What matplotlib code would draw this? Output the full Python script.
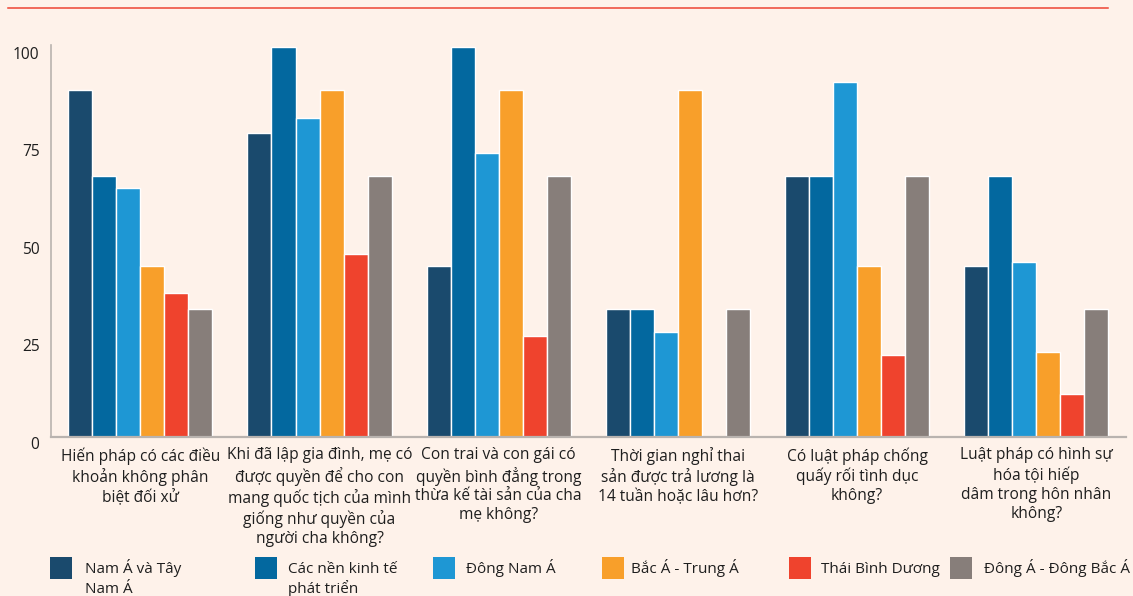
import matplotlib
matplotlib.use("Agg")
import matplotlib.pyplot as plt
import matplotlib.transforms as mtransforms
from matplotlib.patches import Rectangle
from matplotlib.lines import Line2D
import numpy as np

plt.rcParams['font.family'] = ['Open Sans', 'DejaVu Sans']

# Question categories (x axis)
categories = [
    "Hiến pháp có các điều\nkhoản không phân\nbiệt đối xử",
    "Khi đã lập gia đình, mẹ có\nđược quyền để cho con\nmang quốc tịch của mình\ngiống như quyền của\nngười cha không?",
    "Con trai và con gái có\nquyền bình đẳng trong\nthừa kế tài sản của cha\nmẹ không?",
    "Thời gian nghỉ thai\nsản được trả lương là\n14 tuần hoặc lâu hơn?",
    "Có luật pháp chống\nquấy rối tình dục\nkhông?",
    "Luật pháp có hình sự\nhóa tội hiếp\ndâm trong hôn nhân\nkhông?",
]

# Regions (series) and their shares, % of economies
regions = [
    "Nam Á và Tây\nNam Á",
    "Các nền kinh tế\nphát triển",
    "Đông Nam Á",
    "Bắc Á - Trung Á",
    "Thái Bình Dương",
    "Đông Á - Đông Bắc Á",
]
south_west_asia = [89, 78, 44, 33, 67, 44]
developed = [67, 100, 100, 33, 67, 67]
southeast_asia = [64, 82, 73, 27, 91, 45]
north_central_asia = [44, 89, 89, 89, 44, 22]
pacific = [37, 47, 26, 0, 21, 11]
east_northeast_asia = [33, 67, 67, 33, 67, 33]

series = [south_west_asia, developed, southeast_asia,
          north_central_asia, pacific, east_northeast_asia]
colors = ["#1a4a6d", "#03689f", "#1e97d4", "#f89f2a", "#ef432d", "#877e7a"]

yticks = [0, 25, 50, 75, 100]

bg = "#fef2ea"
text_color = "#1e1e1e"
axis_gray = "#b9b3af"
fs = 11.2

W, H = 1133, 596
fig = plt.figure(figsize=(W / 100, H / 100), dpi=100, facecolor=bg)

ax_left, ax_right = 50.7 / W, 1126 / W
ax_bottom, ax_top = (H - 437.3) / H, (H - 45) / H
ax = fig.add_axes([ax_left, ax_bottom, ax_right - ax_left, ax_top - ax_bottom])
ax.set_facecolor(bg)

n = len(series)
bw = 0.134
x = np.arange(len(categories))
for i, (vals, c) in enumerate(zip(series, colors)):
    offs = (i - (n - 1) / 2) * bw
    ax.bar(x + offs, vals, width=bw, color=c, edgecolor="white",
           linewidth=1.0, zorder=2)

ax.set_xlim(-0.5, 5.5)
ax.set_ylim(0, 100.6)

for s in ["top", "right"]:
    ax.spines[s].set_visible(False)
ax.spines["left"].set_color(axis_gray)
ax.spines["left"].set_linewidth(1.2)
ax.spines["bottom"].set_color(axis_gray)
ax.spines["bottom"].set_linewidth(1.6)
ax.spines["bottom"].set_zorder(3)

ax.set_yticks(yticks)
ax.set_yticklabels([str(t) for t in yticks], fontsize=fs, color=text_color)
ax.tick_params(axis="y", length=0, pad=8)
# y labels sit a little below the value they mark
offset = mtransforms.ScaledTranslation(0, -4 / 72, fig.dpi_scale_trans)
for lbl in ax.get_yticklabels():
    lbl.set_transform(lbl.get_transform() + offset)

ax.set_xticks(x)
ax.set_xticklabels(categories, fontsize=fs, color=text_color)
ax.tick_params(axis="x", length=0, pad=7)
for lbl in ax.get_xticklabels():
    lbl.set_linespacing(1.24)

# Legend row along the bottom
sq_x = [50, 255, 433, 602, 789, 950]
tx_x = [85, 288, 466, 631, 821, 984]
sq = 22
sq_top = 557
for sx, tx, name, c in zip(sq_x, tx_x, regions, colors):
    fig.patches.append(Rectangle((sx / W, (H - sq_top - sq) / H), sq / W, sq / H,
                                 transform=fig.transFigure, facecolor=c,
                                 edgecolor="none"))
    lines = name.split("\n")
    for k, line in enumerate(lines):
        fig.text(tx / W, (H - 573 - 20 * k) / H, line, ha="left",
                 va="baseline", fontsize=11.0, color=text_color)

# Thin red rule across the top
fig.add_artist(Line2D([8 / W, 1108 / W], [(H - 8) / H, (H - 8) / H],
                      transform=fig.transFigure, color="#ee4433", linewidth=1.1))

fig.savefig("out.png", dpi=100, facecolor=bg)
